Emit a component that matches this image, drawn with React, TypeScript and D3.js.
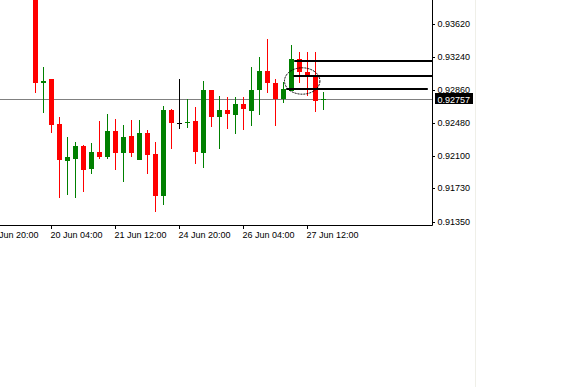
import React from 'react';
import { scaleLinear } from 'd3';

// H4 bars, 19 Jun 12:00 .. 27 Jun 16:00
const opens = [0.9405, 0.92939, 0.92985, 0.92474, 0.92045, 0.92068, 0.92221, 0.91957, 0.92149, 0.92095,
  0.92390, 0.92141, 0.92336, 0.92057, 0.92364, 0.92126, 0.91643, 0.92632, 0.92486, 0.92482,
  0.92505, 0.92141, 0.92861, 0.92548, 0.92632, 0.92574, 0.92701, 0.92624, 0.92861, 0.93080,
  0.92939, 0.92758, 0.92850, 0.93218, 0.93072, 0.93034, 0.92755];
const highs = [0.9410, 0.93129, 0.92990, 0.92551, 0.92325, 0.92267, 0.92230, 0.92256, 0.92509, 0.92586,
  0.92532, 0.92459, 0.92517, 0.92517, 0.92402, 0.92267, 0.92678, 0.92643, 0.92988, 0.92755,
  0.92663, 0.92965, 0.92861, 0.92793, 0.92778, 0.92784, 0.92778, 0.93122, 0.93237, 0.93444,
  0.92988, 0.92957, 0.93379, 0.93302, 0.93302, 0.93302, 0.92842];
const lows = [0.92830, 0.92601, 0.92371, 0.91624, 0.91655, 0.91624, 0.91693, 0.91893, 0.92065, 0.92072,
  0.91942, 0.91807, 0.92088, 0.92057, 0.91896, 0.91463, 0.91540, 0.92183, 0.92417, 0.92421,
  0.92007, 0.91961, 0.92440, 0.92180, 0.92410, 0.92352, 0.92402, 0.92451, 0.92574, 0.92824,
  0.92451, 0.92709, 0.92850, 0.92939, 0.92796, 0.92612, 0.92632];
const closes = [0.92939, 0.92968, 0.92463, 0.92057, 0.92095, 0.92221, 0.91942, 0.92149, 0.92095, 0.92390,
  0.92141, 0.92325, 0.92141, 0.92364, 0.92114, 0.91643, 0.92632, 0.92486, 0.92486, 0.92490,
  0.92152, 0.92861, 0.92548, 0.92632, 0.92589, 0.92701, 0.92640, 0.92861, 0.93080, 0.92939,
  0.92758, 0.92873, 0.93218, 0.93065, 0.93022, 0.92739, 0.92757];

const priceTicks = [0.9362, 0.9324, 0.9286, 0.9248, 0.921, 0.9173, 0.9135];
const timeLabels = ['19 Jun 20:00', '20 Jun 04:00', '21 Jun 12:00', '24 Jun 20:00', '26 Jun 04:00', '27 Jun 12:00'];
const timeBars = [-6, 2, 10, 18, 26, 34];

const bid = 0.92757;
// drawn horizontal levels: price, first bar, last bar (null = to the axis)
const levelPrices = [0.93195, 0.93022, 0.92876];
const levelFrom = [32.4, 32.3, 31.4];
const levelTo: (number | null)[] = [null, null, 49.1];
const circleBar = 33.4;
const circlePrice = 0.92965;

const W = 571;
const H = 387;
const axisX = 432;
const axisY = 225;
const font = '"Liberation Sans", Arial, sans-serif';

export default function App() {
  const x = scaleLinear().domain([0, 1]).range([35, 43]);
  const y = scaleLinear().domain([0.9135, 0.9362]).range([221.5, 24]);
  const fmt = (v: number) => v.toFixed(5);

  return (
    <div style={{ position: 'fixed', left: 0, top: 0 }}>
      <svg width={W} height={H} style={{ display: 'block', background: '#fff' }}>
        <defs>
          <clipPath id="plot">
            <rect x={0} y={0} width={axisX} height={axisY} />
          </clipPath>
        </defs>
        <line x1={475.5} x2={475.5} y1={0} y2={H} stroke="#efefe8" />

        <line x1={0} x2={axisX} y1={Math.round(y(bid)) + 0.5} y2={Math.round(y(bid)) + 0.5} stroke="#808080" />

        <g clipPath="url(#plot)">
          {opens.map((o, i) => {
            const c = closes[i];
            const cx = Math.round(x(i));
            const col = Math.abs(c - o) < 0.00001 ? '#000' : c > o ? '#008000' : '#ff0000';
            const top = Math.round(y(Math.max(o, c)));
            const bot = Math.round(y(Math.min(o, c)));
            return (
              <g key={i}>
                <line x1={cx + 0.5} x2={cx + 0.5} y1={Math.round(y(highs[i]))} y2={Math.round(y(lows[i]))} stroke={col} />
                {bot - top < 2
                  ? <line x1={cx - 2} x2={cx + 3} y1={top + 0.5} y2={top + 0.5} stroke={col} />
                  : <rect x={cx - 2} y={top} width={5} height={bot - top} fill={col} />}
              </g>
            );
          })}

          {levelPrices.map((p, i) => {
            const to = levelTo[i];
            return (
              <line key={i} x1={x(levelFrom[i])} x2={to === null ? axisX : x(to)}
                y1={Math.round(y(p))} y2={Math.round(y(p))} stroke="#000" strokeWidth={2} />
            );
          })}
          <ellipse cx={x(circleBar)} cy={y(circlePrice)} rx={17.7} ry={13.2}
            fill="none" stroke="#000" strokeWidth={1} strokeDasharray="2,1" />
        </g>

        <line x1={axisX + 0.5} x2={axisX + 0.5} y1={0} y2={axisY + 0.5} stroke="#000" />
        <line x1={0} x2={axisX + 0.5} y1={axisY + 0.5} y2={axisY + 0.5} stroke="#000" />

        {priceTicks.map((t) => (
          <g key={t}>
            <line x1={axisX} x2={axisX + 3} y1={Math.round(y(t)) + 0.5} y2={Math.round(y(t)) + 0.5} stroke="#000" />
            <text x={437.5} y={y(t) + 3} fontSize={9} fontFamily={font} fill="#000">{fmt(t)}</text>
          </g>
        ))}

        {timeBars.map((b, i) => {
          const tx = Math.round(x(b)) + 0.5;
          return (
            <g key={b}>
              <line x1={tx} x2={tx} y1={axisY} y2={axisY + 4} stroke="#000" />
              <text x={tx - 1} y={238} fontSize={9} fontFamily={font} fill="#000">{timeLabels[i]}</text>
            </g>
          );
        })}

        <rect x={435} y={Math.round(y(bid)) - 6} width={38} height={11} fill="#000" />
        <text x={437.5} y={y(bid) + 3.5} fontSize={9} fontFamily={font} fill="#fff">{fmt(bid)}</text>
      </svg>
    </div>
  );
}
